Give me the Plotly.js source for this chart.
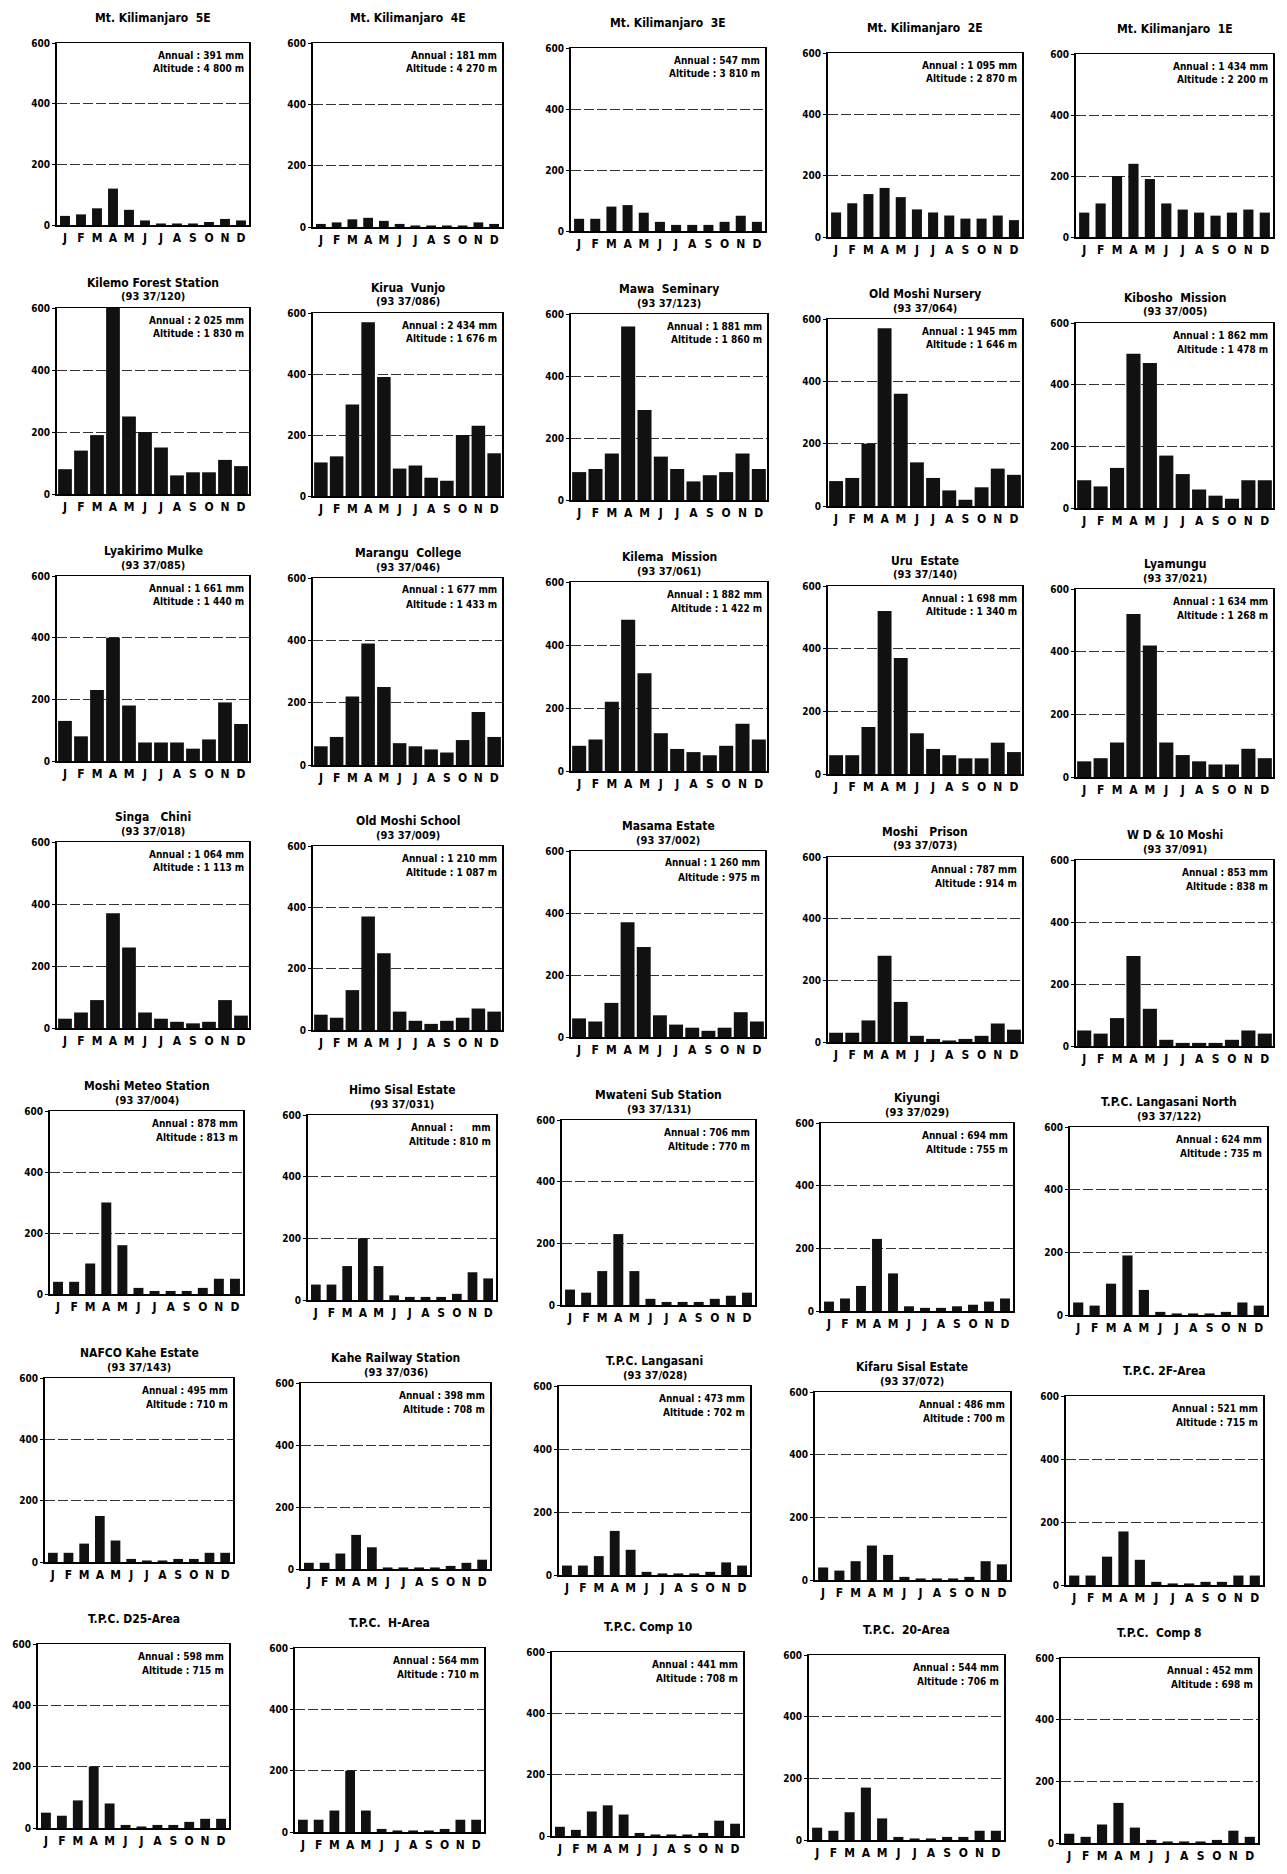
<!DOCTYPE html>
<html><head><meta charset="utf-8">
<script src="https://cdn.plot.ly/plotly-3.0.1.min.js"></script>
<style>body{margin:0;background:#fff}#chart{width:1287px;height:1874px}</style>
</head><body><div id="chart"></div>
<script>
// ---------- DATA ----------
const months = ["J","F","M","A","M","J","J","A","S","O","N","D"];
const yTicks = [0, 200, 400, 600];

const stationNames = [
  "Mt. Kilimanjaro  5E","Mt. Kilimanjaro  4E","Mt. Kilimanjaro  3E","Mt. Kilimanjaro  2E","Mt. Kilimanjaro  1E",
  "Kilemo Forest Station","Kirua  Vunjo","Mawa  Seminary","Old Moshi Nursery","Kibosho  Mission",
  "Lyakirimo Mulke","Marangu  College","Kilema  Mission","Uru  Estate","Lyamungu",
  "Singa   Chini","Old Moshi School","Masama Estate","Moshi   Prison","W D & 10 Moshi",
  "Moshi Meteo Station","Himo Sisal Estate","Mwateni Sub Station","Kiyungi","T.P.C. Langasani North",
  "NAFCO Kahe Estate","Kahe Railway Station","T.P.C. Langasani","Kifaru Sisal Estate","T.P.C. 2F-Area",
  "T.P.C. D25-Area","T.P.C.  H-Area","T.P.C. Comp 10","T.P.C.  20-Area","T.P.C.  Comp 8"
];
const stationCodes = [
  "","","","","",
  "(93 37/120)","(93 37/086)","(93 37/123)","(93 37/064)","(93 37/005)",
  "(93 37/085)","(93 37/046)","(93 37/061)","(93 37/140)","(93 37/021)",
  "(93 37/018)","(93 37/009)","(93 37/002)","(93 37/073)","(93 37/091)",
  "(93 37/004)","(93 37/031)","(93 37/131)","(93 37/029)","(93 37/122)",
  "(93 37/143)","(93 37/036)","(93 37/028)","(93 37/072)","",
  "","","","",""
];
const annualRain = [
  "391 mm","181 mm","547 mm","1 095 mm","1 434 mm",
  "2 025 mm","2 434 mm","1 881 mm","1 945 mm","1 862 mm",
  "1 661 mm","1 677 mm","1 882 mm","1 698 mm","1 634 mm",
  "1 064 mm","1 210 mm","1 260 mm","787 mm","853 mm",
  "878 mm","\u00a0\u00a0\u00a0\u00a0 mm","706 mm","694 mm","624 mm",
  "495 mm","398 mm","473 mm","486 mm","521 mm",
  "598 mm","564 mm","441 mm","544 mm","452 mm"
];
const altitudes = [
  "4 800 m","4 270 m","3 810 m","2 870 m","2 200 m",
  "1 830 m","1 676 m","1 860 m","1 646 m","1 478 m",
  "1 440 m","1 433 m","1 422 m","1 340 m","1 268 m",
  "1 113 m","1 087 m","975 m","914 m","838 m",
  "813 m","810 m","770 m","755 m","735 m",
  "710 m","708 m","702 m","700 m","715 m",
  "715 m","710 m","708 m","706 m","698 m"
];

// monthly rainfall (mm), J..D
const rainKili5E   = [30, 35, 55, 120, 50, 15, 5, 5, 5, 10, 20, 15];
const rainKili4E   = [10, 15, 25, 30, 20, 10, 5, 5, 5, 5, 15, 10];
const rainKili3E   = [40, 40, 80, 85, 60, 30, 20, 20, 20, 30, 50, 30];
const rainKili2E   = [80, 110, 140, 160, 130, 90, 80, 70, 60, 60, 70, 55];
const rainKili1E   = [80, 110, 200, 240, 190, 110, 90, 80, 70, 80, 90, 80];

const rainKilemoFS = [80, 140, 190, 630, 250, 200, 150, 60, 70, 70, 110, 90];
const rainKirua    = [110, 130, 300, 570, 390, 90, 100, 60, 50, 200, 230, 140];
const rainMawa     = [90, 100, 150, 560, 290, 140, 100, 60, 80, 90, 150, 100];
const rainOldMoshiN= [80, 90, 200, 570, 360, 140, 90, 50, 20, 60, 120, 100];
const rainKibosho  = [90, 70, 130, 500, 470, 170, 110, 60, 40, 30, 90, 90];

const rainLyakirimo= [130, 80, 230, 400, 180, 60, 60, 60, 40, 70, 190, 120];
const rainMarangu  = [60, 90, 220, 390, 250, 70, 60, 50, 40, 80, 170, 90];
const rainKilemaM  = [80, 100, 220, 480, 310, 120, 70, 60, 50, 80, 150, 100];
const rainUru      = [60, 60, 150, 520, 370, 130, 80, 60, 50, 50, 100, 70];
const rainLyamungu = [50, 60, 110, 520, 420, 110, 70, 50, 40, 40, 90, 60];

const rainSinga    = [30, 50, 90, 370, 260, 50, 30, 20, 15, 20, 90, 40];
const rainOldMoshiS= [50, 40, 130, 370, 250, 60, 30, 20, 30, 40, 70, 60];
const rainMasama   = [60, 50, 110, 370, 290, 70, 40, 30, 20, 30, 80, 50];
const rainPrison   = [30, 30, 70, 280, 130, 20, 10, 5, 10, 20, 60, 40];
const rainWD10     = [50, 40, 90, 290, 120, 20, 10, 10, 10, 20, 50, 40];

const rainMeteo    = [40, 40, 100, 300, 160, 20, 10, 10, 10, 20, 50, 50];
const rainHimo     = [50, 50, 110, 200, 110, 15, 10, 10, 10, 20, 90, 70];
const rainMwateni  = [50, 40, 110, 230, 110, 20, 10, 10, 10, 20, 30, 40];
const rainKiyungi  = [30, 40, 80, 230, 120, 15, 10, 10, 15, 20, 30, 40];
const rainTPCLN    = [40, 30, 100, 190, 80, 10, 5, 5, 5, 10, 40, 30];

const rainNafco    = [30, 30, 60, 150, 70, 10, 5, 5, 10, 10, 30, 30];
const rainKaheRS   = [20, 20, 50, 110, 70, 5, 5, 5, 5, 10, 20, 30];
const rainTPCL     = [30, 30, 60, 140, 80, 10, 5, 5, 5, 10, 40, 30];
const rainKifaru   = [40, 30, 60, 110, 80, 10, 5, 5, 5, 10, 60, 50];
const rainTPC2F    = [30, 30, 90, 170, 80, 10, 5, 5, 10, 10, 30, 30];

const rainTPCD25   = [50, 40, 90, 200, 80, 10, 5, 10, 10, 20, 30, 30];
const rainTPCH     = [40, 40, 70, 200, 70, 10, 5, 5, 5, 10, 40, 40];
const rainTPCC10   = [30, 20, 80, 100, 70, 10, 5, 5, 5, 10, 50, 40];
const rainTPC20    = [40, 30, 90, 170, 70, 10, 5, 5, 10, 10, 30, 30];
const rainTPCC8    = [30, 20, 60, 130, 50, 10, 5, 5, 5, 10, 40, 20];

const rainSeries = [
  rainKili5E, rainKili4E, rainKili3E, rainKili2E, rainKili1E,
  rainKilemoFS, rainKirua, rainMawa, rainOldMoshiN, rainKibosho,
  rainLyakirimo, rainMarangu, rainKilemaM, rainUru, rainLyamungu,
  rainSinga, rainOldMoshiS, rainMasama, rainPrison, rainWD10,
  rainMeteo, rainHimo, rainMwateni, rainKiyungi, rainTPCLN,
  rainNafco, rainKaheRS, rainTPCL, rainKifaru, rainTPC2F,
  rainTPCD25, rainTPCH, rainTPCC10, rainTPC20, rainTPCC8
];

// ---------- LAYOUT (pixel boxes: left, right, top(600), bottom(0)) ----------
const W = 1287, H = 1874;
const colL = [[57,313,571,828,1076],[57,313,571,828,1076],[57,313,571,828,1076],[57,313,571,828,1076],
              [50,308,562,821,1070],[45,301,559,815,1066],[38,295,552,809,1061]];
const colR = [[249,502,765,1022,1273],[249,502,767,1022,1273],[249,502,767,1022,1273],[249,502,765,1022,1273],
              [243,496,755,1013,1267],[233,490,750,1010,1263],[229,484,743,1004,1258]];
const rowT = [[43,43,48,53,54],[308,313,314,319,323],[576,578,582,586,589],[842,846,851,857,860],
              [1111,1115,1120,1123,1127],[1378,1383,1386,1392,1396],[1644,1648,1652,1655,1658]];
const rowB = [[225,227,231,237,237],[494,496,500,506,508],[761,765,771,774,777],[1028,1030,1037,1042,1046],
              [1294,1300,1305,1311,1315],[1562,1569,1575,1580,1585],[1828,1832,1836,1840,1843]];

const FONT = "'DejaVu Sans Condensed', 'Liberation Sans Narrow', 'DejaVu Sans', sans-serif";
const monthIdx = months.map((_, i) => i);

const traces = [];
const layout = {
  width: W, height: H,
  margin: {l: 0, r: 0, t: 0, b: 0},
  showlegend: false,
  paper_bgcolor: '#ffffff', plot_bgcolor: '#ffffff',
  font: {family: FONT, color: '#000', weight: 'bold'},
  annotations: []
};

for (let i = 0; i < rainSeries.length; i++) {
  const r = Math.floor(i / 5), c = i % 5;
  const l = colL[r][c], rr = colR[r][c], t = rowT[r][c], b = rowB[r][c];
  const n = i + 1;
  const xs = n === 1 ? '' : String(n);
  const dense = (r >= 1 && r <= 3);
  traces.push({
    type: 'bar', x: monthIdx, y: rainSeries[i],
    xaxis: 'x' + xs, yaxis: 'y' + xs,
    width: dense ? 0.86 : 0.62,
    marker: {color: '#111', line: {width: 0}},
    cliponaxis: false, hoverinfo: 'skip'
  });
  layout['xaxis' + xs] = {
    domain: [l / W, rr / W], anchor: 'y' + xs,
    range: [-0.5, 11.5], tickvals: monthIdx, ticktext: months,
    showline: true, mirror: true, linecolor: '#000', linewidth: 1.5,
    ticks: '', showgrid: false, zeroline: false, fixedrange: true,
    tickfont: {size: 12, family: FONT, weight: 'bold'}, ticklabelstandoff: 1
  };
  layout['yaxis' + xs] = {
    domain: [1 - b / H, 1 - t / H], anchor: 'x' + xs,
    range: [0, 600], tickvals: yTicks,
    showline: true, mirror: true, linecolor: '#000', linewidth: 2,
    ticks: 'outside', ticklen: 3, tickcolor: '#000',
    showgrid: true, gridcolor: '#333', gridwidth: 1, griddash: '10px,3px',
    zeroline: false, fixedrange: true,
    tickfont: {size: 10, family: FONT, weight: 'bold'}
  };
  const cx = (l + rr) / 2 / W;
  const hasCode = stationCodes[i] !== "";
  layout.annotations.push({
    xref: 'paper', yref: 'paper', x: cx, y: 1 - (t - 25) / H,
    text: stationNames[i], showarrow: false, xanchor: 'center', yanchor: 'middle',
    font: {size: 12, family: FONT, weight: 'bold'}
  });
  if (hasCode) {
    layout.annotations.push({
      xref: 'paper', yref: 'paper', x: cx, y: 1 - (t - 11) / H,
      text: stationCodes[i], showarrow: false, xanchor: 'center', yanchor: 'middle',
      font: {size: 11, family: FONT, weight: 'bold'}
    });
  }
  layout.annotations.push({
    xref: 'paper', yref: 'paper', x: (rr - 3) / W, y: 1 - (t + 12) / H,
    text: 'Annual : ' + annualRain[i], showarrow: false, xanchor: 'right', yanchor: 'middle',
    font: {size: 10, family: FONT, weight: 'bold'}
  });
  layout.annotations.push({
    xref: 'paper', yref: 'paper', x: (rr - 3) / W, y: 1 - (t + 26) / H,
    text: 'Altitude : ' + altitudes[i], showarrow: false, xanchor: 'right', yanchor: 'middle',
    font: {size: 10, family: FONT, weight: 'bold'}
  });
}

Plotly.newPlot('chart', traces, layout, {staticPlot: true, displayModeBar: false});
</script>
</body></html>
